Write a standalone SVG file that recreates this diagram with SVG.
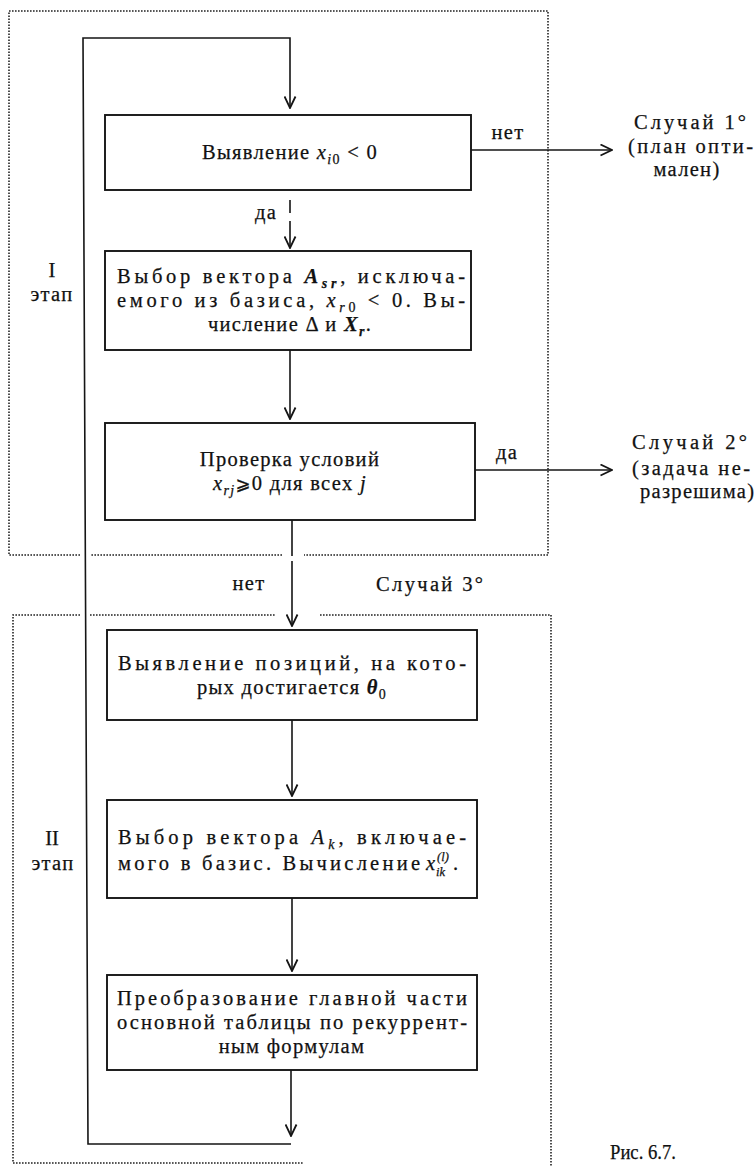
<svg xmlns="http://www.w3.org/2000/svg" width="754" height="1166" viewBox="0 0 754 1166">
<defs>
<style>
.t{font-family:"Liberation Serif","DejaVu Serif",serif;font-size:20.5px;fill:#111;stroke:#111;stroke-width:0.25}
.ls{letter-spacing:1.3px}
.c{text-anchor:middle}
.i{font-style:italic}
.bi{font-style:italic;font-weight:bold}
.sub{font-size:14px}
.sm{font-size:12.5px}
.box{fill:#fff;stroke:#151515;stroke-width:1.9}
.ln{fill:none;stroke:#151515;stroke-width:1.6}
.dot{fill:none;stroke:#222;stroke-width:1.6;stroke-dasharray:1.6 1.4}
</style>
<marker id="arr" viewBox="0 0 13 13" refX="12.5" refY="6.5" markerWidth="13" markerHeight="13" orient="auto" markerUnits="userSpaceOnUse">
<path d="M1,1 L12.5,6.5 L1,12" fill="none" stroke="#151515" stroke-width="1.8"/>
</marker>
</defs>
<rect width="754" height="1166" fill="#fff"/>

<g id="frames">
<path class="dot" d="M80,555 L9,555 L9,11 L548,11 L548,555 L304,555 M282,555 L90,555"/>
<path class="dot" d="M80,615 L13,615 L13,1163 L304,1163 M90,615 L275,615 M320,615 L551,615 L551,1166"/>
</g>

<g id="connectors">
<path class="ln" d="M291,1144 L88,1144 L83,38 L290,38 L290,108" marker-end="url(#arr)"/>
<path class="ln" d="M290,200 L290,213 M290,221 L290,248" marker-end="url(#arr)"/>
<path class="ln" d="M290,350 L290,419" marker-end="url(#arr)"/>
<path class="ln" d="M292,520 L292,556 M292,561 L292,626" marker-end="url(#arr)"/>
<path class="ln" d="M292,720 L292,796" marker-end="url(#arr)"/>
<path class="ln" d="M292,898 L292,971" marker-end="url(#arr)"/>
<path class="ln" d="M291,1070 L291,1136" marker-end="url(#arr)"/>
<path class="ln" d="M471,150 L612,150" marker-end="url(#arr)"/>
<path class="ln" d="M475,470 L612,470" marker-end="url(#arr)"/>
</g>

<g id="labels">
<text class="t ls c" x="508" y="139">нет</text>
<text class="t ls c" x="266" y="219">да</text>
<text class="t ls c" x="507" y="459">да</text>
<text class="t ls c" x="249" y="590">нет</text>
<text class="t" x="376" y="591" font-size="22" textLength="107" lengthAdjust="spacing">Случай 3°</text>
<text class="t c" x="52" y="277">I</text>
<text class="t ls c" x="52" y="301">этап</text>
<text class="t c" x="52" y="845">II</text>
<text class="t ls c" x="53" y="870">этап</text>
<text class="t" x="610" y="1159" font-size="21" textLength="66" lengthAdjust="spacingAndGlyphs">Рис. 6.7.</text>
</g>

<g id="case1">
<text class="t" x="634" y="129" textLength="112" lengthAdjust="spacing">Случай 1°</text>
<text class="t" x="628" y="153" textLength="125" lengthAdjust="spacing">(план опти-</text>
<text class="t ls c" x="687" y="176">мален)</text>
</g>

<g id="case2">
<text class="t" x="632" y="449" textLength="115" lengthAdjust="spacing">Случай 2°</text>
<text class="t" x="632" y="475" textLength="118" lengthAdjust="spacing">(задача не-</text>
<text class="t" x="640" y="498" textLength="114" lengthAdjust="spacing">разрешима)</text>
</g>

<g id="box1">
<rect class="box" x="105" y="115" width="366" height="75"/>
<text class="t ls c" x="290" y="159">Выявление <tspan class="i">x</tspan><tspan class="sub" baseline-shift="-5"><tspan class="i">i</tspan>0</tspan> &lt; 0</text>
</g>

<g id="box2">
<rect class="box" x="105" y="251" width="366" height="99"/>
<text class="t" x="117" y="283" textLength="348" lengthAdjust="spacing">Выбор вектора <tspan class="bi">A</tspan><tspan class="bi sub" baseline-shift="-5">sr</tspan>, исключа-</text>
<text class="t" x="117" y="307" textLength="348" lengthAdjust="spacing">емого из базиса, <tspan class="i">x</tspan><tspan class="sub" baseline-shift="-5"><tspan class="i">r</tspan>0</tspan> &lt; 0. Вы-</text>
<text class="t ls c" x="290" y="331">числение Δ и <tspan class="bi">X</tspan><tspan class="bi sub" baseline-shift="-5">r</tspan>.</text>
</g>

<g id="box3">
<rect class="box" x="105" y="423" width="370" height="97"/>
<text class="t ls c" x="290" y="466">Проверка условий</text>
<text class="t ls c" x="290" y="490"><tspan class="i">x</tspan><tspan class="i sub" baseline-shift="-5">rj</tspan><tspan font-family="DejaVu Sans" font-size="18">⩾</tspan>0 для всех <tspan class="i">j</tspan></text>
</g>

<g id="box4">
<rect class="box" x="107" y="630" width="370" height="90"/>
<text class="t" x="118" y="670" textLength="348" lengthAdjust="spacing">Выявление позиций, на кото-</text>
<text class="t ls c" x="292" y="694">рых достигается <tspan class="bi">θ</tspan><tspan class="sub" baseline-shift="-5">0</tspan></text>
</g>

<g id="box5">
<rect class="box" x="107" y="800" width="370" height="98"/>
<text class="t" x="118" y="844" textLength="348" lengthAdjust="spacing">Выбор вектора <tspan class="i">A</tspan><tspan class="i sub" baseline-shift="-5">k</tspan>, включае-</text>
<text class="t" x="118" y="870" textLength="302" lengthAdjust="spacing">мого в базис. Вычисление</text>
<text class="t i" x="426" y="870">x</text>
<text class="t i sm" x="436" y="876">ik</text>
<text class="t i sm" x="437" y="861">(l)</text>
<text class="t" x="453" y="870">.</text>
</g>

<g id="box6">
<rect class="box" x="107" y="975" width="370" height="95"/>
<text class="t" x="117" y="1005" textLength="350" lengthAdjust="spacing">Преобразование главной части</text>
<text class="t" x="117" y="1029" textLength="350" lengthAdjust="spacing">основной таблицы по рекуррент-</text>
<text class="t ls c" x="292" y="1053">ным формулам</text>
</g>
</svg>
